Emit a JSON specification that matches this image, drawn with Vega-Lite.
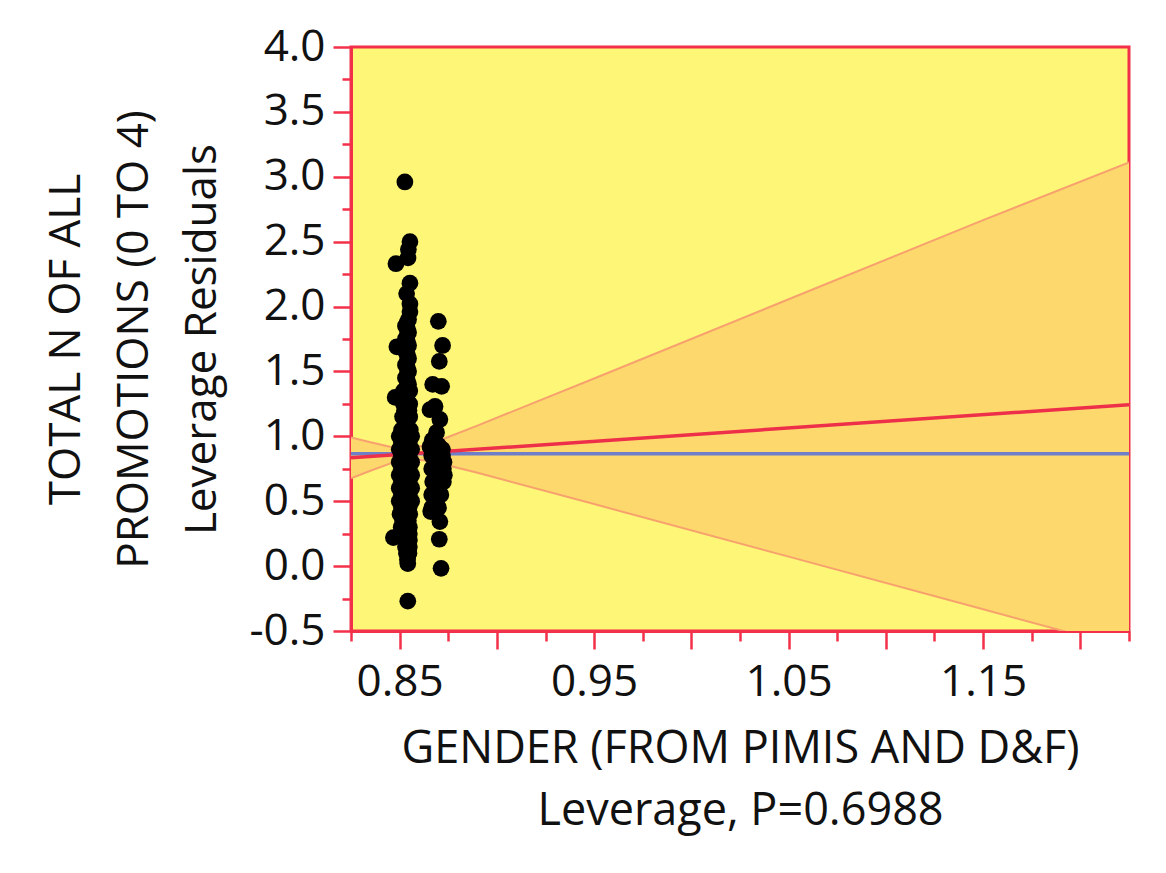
{
  "$schema": "https://vega.github.io/schema/vega-lite/v6.json",
  "width": 778,
  "height": 584,
  "autosize": {"type": "none"},
  "padding": {"left": 351, "top": 47, "right": 37, "bottom": 242},
  "background": "white",
  "config": {
    "view": {"fill": "#FEF677", "stroke": "#F2304A", "strokeWidth": 3},
    "font": "Open Sans",
    "axis": {
      "domainColor": "#F2304A",
      "domainWidth": 3,
      "tickColor": "#F2304A",
      "tickWidth": 2.5,
      "grid": false,
      "labelFont": "Open Sans",
      "labelFontSize": 44,
      "labelColor": "#111111",
      "titleFont": "Open Sans",
      "titleFontSize": 44,
      "titleFontWeight": "normal",
      "titleColor": "#111111"
    }
  },
  "datasets": {
    "points": [
      {"lev": 0.8527, "resid": 2.96},
      {"lev": 0.8553, "resid": 2.50},
      {"lev": 0.8545, "resid": 2.44},
      {"lev": 0.8543, "resid": 2.375},
      {"lev": 0.8481, "resid": 2.33},
      {"lev": 0.8553, "resid": 2.18},
      {"lev": 0.8536, "resid": 2.10},
      {"lev": 0.8553, "resid": 2.02},
      {"lev": 0.8553, "resid": 1.96},
      {"lev": 0.8546, "resid": 1.90},
      {"lev": 0.8538, "resid": 1.875},
      {"lev": 0.8530, "resid": 1.85},
      {"lev": 0.8540, "resid": 1.825},
      {"lev": 0.8546, "resid": 1.80},
      {"lev": 0.8538, "resid": 1.775},
      {"lev": 0.8530, "resid": 1.75},
      {"lev": 0.8540, "resid": 1.725},
      {"lev": 0.8546, "resid": 1.70},
      {"lev": 0.8486, "resid": 1.69},
      {"lev": 0.8538, "resid": 1.675},
      {"lev": 0.8532, "resid": 1.65},
      {"lev": 0.8540, "resid": 1.625},
      {"lev": 0.8546, "resid": 1.60},
      {"lev": 0.8538, "resid": 1.575},
      {"lev": 0.8530, "resid": 1.55},
      {"lev": 0.8540, "resid": 1.525},
      {"lev": 0.8546, "resid": 1.50},
      {"lev": 0.8538, "resid": 1.475},
      {"lev": 0.8530, "resid": 1.45},
      {"lev": 0.8540, "resid": 1.425},
      {"lev": 0.8546, "resid": 1.40},
      {"lev": 0.8536, "resid": 1.375},
      {"lev": 0.8520, "resid": 1.35},
      {"lev": 0.8552, "resid": 1.35},
      {"lev": 0.8536, "resid": 1.325},
      {"lev": 0.8477, "resid": 1.30},
      {"lev": 0.8530, "resid": 1.30},
      {"lev": 0.8540, "resid": 1.275},
      {"lev": 0.8520, "resid": 1.25},
      {"lev": 0.8552, "resid": 1.25},
      {"lev": 0.8538, "resid": 1.225},
      {"lev": 0.8525, "resid": 1.20},
      {"lev": 0.8548, "resid": 1.20},
      {"lev": 0.8535, "resid": 1.175},
      {"lev": 0.8515, "resid": 1.15},
      {"lev": 0.8552, "resid": 1.15},
      {"lev": 0.8535, "resid": 1.125},
      {"lev": 0.8530, "resid": 1.10},
      {"lev": 0.8535, "resid": 1.075},
      {"lev": 0.8510, "resid": 1.05},
      {"lev": 0.8555, "resid": 1.05},
      {"lev": 0.8532, "resid": 1.025},
      {"lev": 0.8498, "resid": 1.00},
      {"lev": 0.8530, "resid": 1.00},
      {"lev": 0.8562, "resid": 1.00},
      {"lev": 0.8530, "resid": 0.975},
      {"lev": 0.8510, "resid": 0.95},
      {"lev": 0.8548, "resid": 0.95},
      {"lev": 0.8530, "resid": 0.925},
      {"lev": 0.8498, "resid": 0.90},
      {"lev": 0.8530, "resid": 0.90},
      {"lev": 0.8562, "resid": 0.90},
      {"lev": 0.8530, "resid": 0.875},
      {"lev": 0.8510, "resid": 0.85},
      {"lev": 0.8548, "resid": 0.85},
      {"lev": 0.8530, "resid": 0.825},
      {"lev": 0.8498, "resid": 0.80},
      {"lev": 0.8530, "resid": 0.80},
      {"lev": 0.8562, "resid": 0.80},
      {"lev": 0.8530, "resid": 0.775},
      {"lev": 0.8510, "resid": 0.75},
      {"lev": 0.8548, "resid": 0.75},
      {"lev": 0.8530, "resid": 0.725},
      {"lev": 0.8498, "resid": 0.70},
      {"lev": 0.8530, "resid": 0.70},
      {"lev": 0.8562, "resid": 0.70},
      {"lev": 0.8530, "resid": 0.675},
      {"lev": 0.8510, "resid": 0.65},
      {"lev": 0.8548, "resid": 0.65},
      {"lev": 0.8530, "resid": 0.625},
      {"lev": 0.8498, "resid": 0.60},
      {"lev": 0.8530, "resid": 0.60},
      {"lev": 0.8562, "resid": 0.60},
      {"lev": 0.8530, "resid": 0.575},
      {"lev": 0.8510, "resid": 0.55},
      {"lev": 0.8548, "resid": 0.55},
      {"lev": 0.8530, "resid": 0.525},
      {"lev": 0.8498, "resid": 0.50},
      {"lev": 0.8530, "resid": 0.50},
      {"lev": 0.8562, "resid": 0.50},
      {"lev": 0.8530, "resid": 0.475},
      {"lev": 0.8510, "resid": 0.45},
      {"lev": 0.8548, "resid": 0.45},
      {"lev": 0.8530, "resid": 0.425},
      {"lev": 0.8502, "resid": 0.40},
      {"lev": 0.8552, "resid": 0.40},
      {"lev": 0.8530, "resid": 0.375},
      {"lev": 0.8515, "resid": 0.35},
      {"lev": 0.8545, "resid": 0.35},
      {"lev": 0.8530, "resid": 0.325},
      {"lev": 0.8508, "resid": 0.30},
      {"lev": 0.8550, "resid": 0.30},
      {"lev": 0.8535, "resid": 0.275},
      {"lev": 0.8525, "resid": 0.25},
      {"lev": 0.8550, "resid": 0.25},
      {"lev": 0.8468, "resid": 0.22},
      {"lev": 0.8530, "resid": 0.20},
      {"lev": 0.8550, "resid": 0.20},
      {"lev": 0.8540, "resid": 0.175},
      {"lev": 0.8530, "resid": 0.15},
      {"lev": 0.8550, "resid": 0.15},
      {"lev": 0.8542, "resid": 0.125},
      {"lev": 0.8535, "resid": 0.10},
      {"lev": 0.8548, "resid": 0.10},
      {"lev": 0.8542, "resid": 0.075},
      {"lev": 0.8540, "resid": 0.05},
      {"lev": 0.8542, "resid": 0.02},
      {"lev": 0.8542, "resid": -0.27},
      {"lev": 0.8699, "resid": 1.886},
      {"lev": 0.8721, "resid": 1.70},
      {"lev": 0.8704, "resid": 1.577},
      {"lev": 0.8670, "resid": 1.40},
      {"lev": 0.8716, "resid": 1.385},
      {"lev": 0.8682, "resid": 1.23},
      {"lev": 0.8656, "resid": 1.205},
      {"lev": 0.8707, "resid": 1.13},
      {"lev": 0.8690, "resid": 1.03},
      {"lev": 0.8668, "resid": 0.97},
      {"lev": 0.8700, "resid": 0.93},
      {"lev": 0.8656, "resid": 0.92},
      {"lev": 0.8720, "resid": 0.90},
      {"lev": 0.8690, "resid": 0.87},
      {"lev": 0.8665, "resid": 0.85},
      {"lev": 0.8720, "resid": 0.85},
      {"lev": 0.8692, "resid": 0.825},
      {"lev": 0.8690, "resid": 0.80},
      {"lev": 0.8728, "resid": 0.80},
      {"lev": 0.8695, "resid": 0.775},
      {"lev": 0.8665, "resid": 0.75},
      {"lev": 0.8725, "resid": 0.75},
      {"lev": 0.8695, "resid": 0.725},
      {"lev": 0.8695, "resid": 0.70},
      {"lev": 0.8730, "resid": 0.70},
      {"lev": 0.8698, "resid": 0.675},
      {"lev": 0.8670, "resid": 0.65},
      {"lev": 0.8725, "resid": 0.65},
      {"lev": 0.8700, "resid": 0.625},
      {"lev": 0.8700, "resid": 0.60},
      {"lev": 0.8688, "resid": 0.575},
      {"lev": 0.8665, "resid": 0.55},
      {"lev": 0.8712, "resid": 0.55},
      {"lev": 0.8685, "resid": 0.525},
      {"lev": 0.8690, "resid": 0.50},
      {"lev": 0.8680, "resid": 0.475},
      {"lev": 0.8665, "resid": 0.45},
      {"lev": 0.8700, "resid": 0.45},
      {"lev": 0.8660, "resid": 0.42},
      {"lev": 0.8707, "resid": 0.343},
      {"lev": 0.8704, "resid": 0.207},
      {"lev": 0.8713, "resid": -0.017}
    ],
    "band": [
      {"lev": 0.825, "lower": 0.677, "upper": 0.992},
      {"lev": 0.835, "lower": 0.735, "upper": 0.954},
      {"lev": 0.845, "lower": 0.790, "upper": 0.920},
      {"lev": 0.855, "lower": 0.825, "upper": 0.905},
      {"lev": 0.865, "lower": 0.811, "upper": 0.940},
      {"lev": 0.875, "lower": 0.776, "upper": 0.995},
      {"lev": 0.890, "lower": 0.719, "upper": 1.083},
      {"lev": 0.950, "lower": 0.478, "upper": 1.446},
      {"lev": 1.050, "lower": 0.073, "upper": 2.056},
      {"lev": 1.150, "lower": -0.333, "upper": 2.666},
      {"lev": 1.225, "lower": -0.637, "upper": 3.110}
    ],
    "fit": [
      {"lev": 0.825, "resid": 0.834},
      {"lev": 1.225, "resid": 1.243}
    ],
    "mean": [
      {"lev": 0.825, "resid": 0.865},
      {"lev": 1.225, "resid": 0.865}
    ]
  },
  "encoding": {
    "x": {
      "field": "lev",
      "type": "quantitative",
      "scale": {"domain": [0.825, 1.225], "nice": false, "zero": false},
      "axis": {
        "title": ["GENDER (FROM PIMIS AND D&F)", "Leverage, P=0.6988"],
        "titleFontSize": 45,
        "titleLineHeight": 62,
        "titlePadding": 22,
        "values": [0.825, 0.85, 0.875, 0.9, 0.925, 0.95, 0.975, 1.0, 1.025, 1.05, 1.075, 1.1, 1.125, 1.15, 1.175, 1.2, 1.225],
        "labelExpr": "abs(round(datum.value * 1000) - 850) % 100 === 0 ? format(datum.value, '.2f') : ''",
        "tickSize": {"condition": {"test": "round(datum.value * 1000) % 50 === 0", "value": 18}, "value": 10},
        "labelPadding": 11,
        "labelFlush": false,
        "labelOverlap": false
      }
    },
    "y": {
      "field": "resid",
      "type": "quantitative",
      "scale": {"domain": [-0.5, 4.0], "nice": false, "zero": false},
      "axis": {
        "title": ["TOTAL N OF ALL", "PROMOTIONS (0 TO 4)", "Leverage Residuals"],
        "titleLineHeight": 68,
        "titlePadding": 24,
        "values": [-0.5, -0.25, 0, 0.25, 0.5, 0.75, 1, 1.25, 1.5, 1.75, 2, 2.25, 2.5, 2.75, 3, 3.25, 3.5, 3.75, 4],
        "labelExpr": "round(datum.value * 100) % 50 === 0 ? (datum.value < 0 ? '-' + format(-datum.value, '.1f') : format(datum.value, '.1f')) : ''",
        "tickSize": {"condition": {"test": "round(datum.value * 100) % 50 === 0", "value": 18}, "value": 9},
        "labelPadding": 8,
        "labelFlush": false,
        "labelOverlap": false
      }
    }
  },
  "layer": [
    {
      "data": {"name": "band"},
      "mark": {"type": "area", "color": "#FDD86C", "opacity": 1, "clip": true},
      "encoding": {"y": {"field": "lower", "type": "quantitative"}, "y2": {"field": "upper"}}
    },
    {
      "data": {"name": "band"},
      "mark": {"type": "line", "color": "#F7A26E", "strokeWidth": 2, "clip": true},
      "encoding": {"y": {"field": "upper", "type": "quantitative"}}
    },
    {
      "data": {"name": "band"},
      "mark": {"type": "line", "color": "#F7A26E", "strokeWidth": 2, "clip": true},
      "encoding": {"y": {"field": "lower", "type": "quantitative"}}
    },
    {
      "data": {"name": "mean"},
      "mark": {"type": "line", "color": "#6E7EC8", "strokeWidth": 3.5},
      "encoding": {}
    },
    {
      "data": {"name": "fit"},
      "mark": {"type": "line", "color": "#EE2F4A", "strokeWidth": 3.5, "clip": true},
      "encoding": {}
    },
    {
      "data": {"name": "points"},
      "mark": {"type": "circle", "color": "#000000", "opacity": 1, "size": 280},
      "encoding": {}
    }
  ]
}
